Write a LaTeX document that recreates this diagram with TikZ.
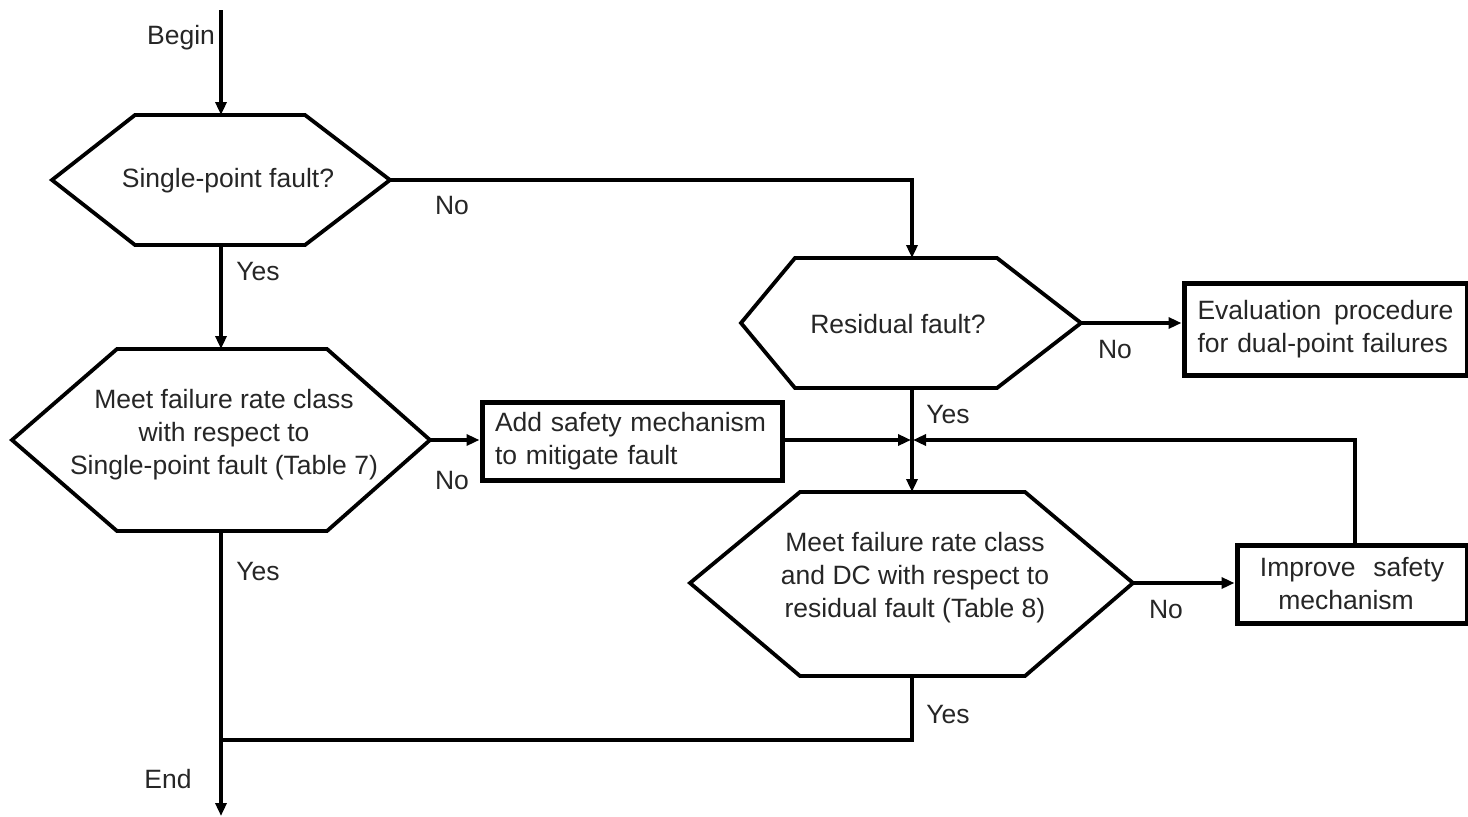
\documentclass[tikz,border=0pt]{standalone}
\usepackage{fontspec}
\setmainfont{Liberation Sans}
\usetikzlibrary{arrows.meta}
\begin{document}
\begin{tikzpicture}[x=1pt,y=-1pt,
  line/.style={line width=3.6pt},
  arr/.style={line width=3.6pt,-{Triangle[length=13pt,width=11pt]}},
  hexa/.style={line width=3.8pt,line join=miter},
  boxs/.style={draw,line width=5pt,inner ysep=0pt},
  txt/.style={font=\fontsize{26.5}{33}\selectfont,align=center,inner sep=0pt,text=black!85},
  lab/.style={font=\fontsize{26.5}{30}\selectfont,inner sep=0pt,text=black!85}]
\useasboundingbox (0,0) rectangle (1468,817);
\fill[white] (0,0) rectangle (1468,817);

% hexagon 1
\draw[hexa] (52,180) -- (135,115) -- (305,115) -- (390,180) -- (305,245) -- (135,245) -- cycle;
\coordinate (h1T) at (221,115);
\coordinate (h1B) at (221,245);
\coordinate (h1R) at (390,180);
\node[txt] (q1) at (228,181) {Single-point fault?};

% hexagon 2
\draw[hexa] (12,440) -- (117,349) -- (327,349) -- (430,440) -- (327,531) -- (117,531) -- cycle;
\coordinate (h2T) at (221,349);
\coordinate (h2B) at (221,531);
\coordinate (h2R) at (430,440);
\node[txt] (q2) at (224,435) {Meet failure rate class\\with respect to\\Single-point fault (Table 7)};

% hexagon 3
\draw[hexa] (741,323) -- (795,258) -- (997,258) -- (1081,323) -- (997,388) -- (795,388) -- cycle;
\coordinate (h3T) at (912,258);
\coordinate (h3B) at (912,388);
\coordinate (h3R) at (1081,323);
\node[txt] (q3) at (898,324) {Residual fault?};

% hexagon 4
\draw[hexa] (690,583) -- (800,492) -- (1025,492) -- (1133,583) -- (1025,676) -- (800,676) -- cycle;
\coordinate (h4T) at (912,492);
\coordinate (h4B) at (912,676);
\coordinate (h4R) at (1133,583);
\node[txt] (q4) at (915,578) {Meet failure rate class\\and DC with respect to\\residual fault (Table 8)};

% boxes
\node[boxs,txt,text width=274pt,align=left,inner xsep=13pt,minimum height=78pt] (add) at (632,441)
  {\mbox{Add safety mechanism}\\to mitigate fault};
\node[boxs,txt,text width=256pt,align=left,inner xsep=13.5pt,minimum height=92pt] (eval) at (1325.5,329)
  {Evaluation\hfill procedure\\for dual-point failures};
\node[boxs,txt,text width=230pt,align=center,inner xsep=0pt,minimum height=78pt] (imp) at (1352,584)
  {Improve\ \ safety\hspace*{12pt}\\mechanism\hspace*{12pt}};

% connector coordinates
\coordinate (start) at (221,10);
\coordinate (fin) at (221,816);
\coordinate (jL) at (911,440);
\coordinate (jR) at (913,440);
\coordinate (m) at (221,740);
\coordinate (up) at (1355,545);

% connectors
\draw[arr] (start) -- (h1T);
\draw[arr] (h1B) -- (h2T);
\draw[arr] (h1R) -| (h3T);
\draw[arr] (h3R) -- (h3R -| eval.west);
\draw[arr] (h3B) -- (h4T);
\draw[arr] (h2R) -- (h2R -| add.west);
\draw[arr] (add.east |- jL) -- (jL);
\draw[arr] (up) |- (jR);
\draw[arr] (h4R) -- (h4R -| imp.west);
\draw[line] (h4B) |- (m);
\draw[arr] (h2B) -- (fin);

% labels
\node[lab] (lbegin) at (181,38) {Begin};
\node[lab] (lno1) at (452,206) {No};
\node[lab] (lyes1) at (258,272) {Yes};
\node[lab] (lno2) at (1115,350) {No};
\node[lab] (lyes2) at (948,415) {Yes};
\node[lab] (lno3) at (452,481) {No};
\node[lab] (lyes3) at (258,572) {Yes};
\node[lab] (lno4) at (1166,610) {No};
\node[lab] (lyes4) at (948,715) {Yes};
\node[lab] (lend) at (168,779) {End};
\end{tikzpicture}
\end{document}
